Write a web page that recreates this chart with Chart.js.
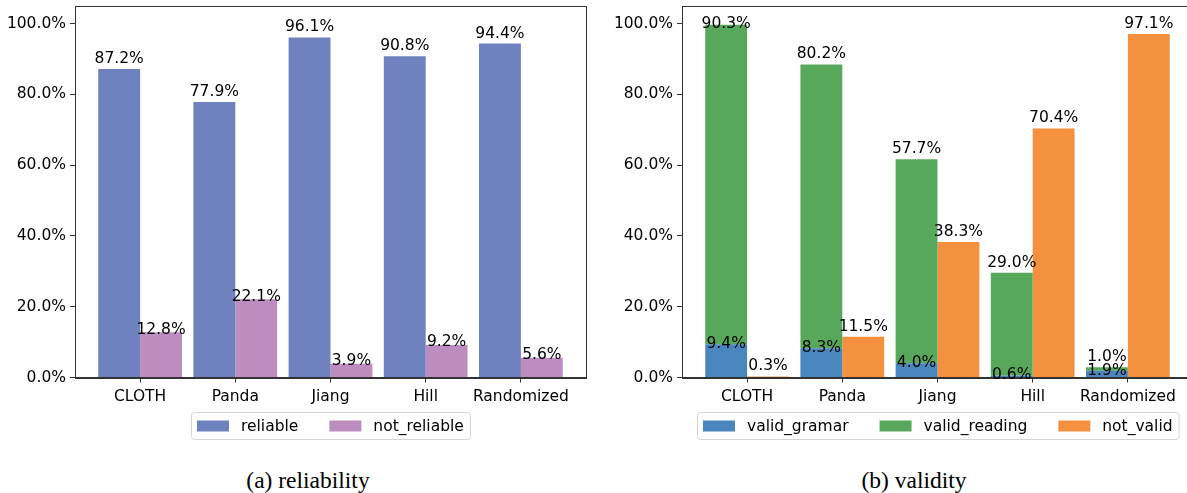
<!DOCTYPE html>
<html>
<head>
<meta charset="utf-8">
<script src="https://cdn.jsdelivr.net/npm/chart.js@4"></script>
<style>
  html, body { margin: 0; padding: 0; background: #fff; overflow: hidden; }
  body { width: 1187px; height: 493px; position: relative; }
  .panel { position: absolute; top: 0; width: 600px; height: 460px; }
  .caption {
    position: absolute; top: 467px; width: 300px; text-align: center;
    font-family: 'Liberation Serif', 'Times New Roman', serif; font-size: 23.5px; color: #000;
  }
</style>
</head>
<body>
<div class="panel" style="left:0"><canvas id="reliability" width="600" height="460"></canvas></div>
<div class="panel" style="left:600px"><canvas id="validity" width="600" height="460"></canvas></div>
<div class="caption" style="left:158px">(a) reliability</div>
<div class="caption" style="left:764px">(b) validity</div>
<script>
const categories = ['CLOTH', 'Panda', 'Jiang', 'Hill', 'Randomized']

// (a) reliability
const reliable = [87.2, 77.9, 96.1, 90.8, 94.4]
const notReliable = [12.8, 22.1, 3.9, 9.2, 5.6]

// (b) validity
const validGramar = [9.4, 8.3, 4.0, 0.6, 1.9]
const validReading = [90.3, 80.2, 57.7, 29.0, 1.0]
const notValid = [0.3, 11.5, 38.3, 70.4, 97.1]

const yTicks = [0, 20, 40, 60, 80, 100]

const FONT = 'DejaVu Sans'
const FS = 15.5
const INK = '#333'

const points = arr => arr.map((v, i) => ({ x: i, y: v }))

// value text over each bar (labelShift: px from bar top to baseline)
const valueLabels = {
  id: 'valueLabels',
  afterDatasetsDraw(chart) {
    const ctx = chart.ctx
    const ceiling = chart.scales.y.getPixelForValue(98.8)
    ctx.save()
    ctx.font = `${FS}px "${FONT}"`
    ctx.fillStyle = '#000'
    ctx.textAlign = 'center'
    ctx.textBaseline = 'alphabetic'
    chart.data.datasets.forEach((ds, di) => {
      const meta = chart.getDatasetMeta(di)
      meta.data.forEach((bar, i) => {
        const top = Math.min(bar.y, bar.base)
        const y = Math.max(top + ds.labelShift, ceiling)
        ctx.fillText(ds.data[i].y.toFixed(1) + '%', bar.x, y)
      })
    })
    ctx.restore()
  }
}

// full box round the plot, drawn over the bars like matplotlib spines
const frame = {
  id: 'frame',
  afterDatasetsDraw(chart) {
    const { ctx, chartArea } = chart
    ctx.save()
    ctx.strokeStyle = INK
    ctx.lineWidth = 1
    ctx.strokeRect(Math.round(chartArea.left) + 0.5, Math.round(chartArea.top) + 0.5,
      Math.round(chartArea.right - chartArea.left), Math.round(chartArea.bottom - chartArea.top))
    ctx.restore()
  }
}

// matplotlib-like boxed legend under the axis, one row
const boxLegend = {
  id: 'boxLegend',
  afterDraw(chart) {
    const { ctx, chartArea } = chart
    ctx.save()
    ctx.font = `${FS}px "${FONT}"`
    const items = chart.data.datasets.map(ds => ({
      text: ds.label, color: ds.backgroundColor, w: ctx.measureText(ds.label).width
    }))
    const pad = 6, handle = 32, textGap = 12, colGap = 31
    const width = pad * 2 + items.reduce((s, it) => s + handle + textGap + it.w, 0) + colGap * (items.length - 1)
    const height = 27
    const cx = (chartArea.left + chartArea.right) / 2
    const x0 = Math.round(cx - width / 2)
    const y0 = Math.round(chartArea.bottom + 34)

    ctx.fillStyle = 'rgba(255,255,255,0.8)'
    ctx.strokeStyle = '#d4d4d4'
    ctx.lineWidth = 1
    ctx.beginPath()
    ctx.roundRect(x0 + 0.5, y0 + 0.5, width, height, 3)
    ctx.fill()
    ctx.stroke()

    let x = x0 + pad
    items.forEach(it => {
      ctx.fillStyle = it.color
      ctx.fillRect(x, y0 + height / 2 - 5, handle, 11)
      ctx.fillStyle = '#000'
      ctx.textBaseline = 'middle'
      ctx.fillText(it.text, x + handle + textGap, y0 + height / 2 + 1)
      x += handle + textGap + it.w + colGap
    })
    ctx.restore()
  }
}

function barChart(canvasId, datasets, yWidth, rightPad, stacked) {
  return new Chart(document.getElementById(canvasId), {
    type: 'bar',
    plugins: [frame, valueLabels, boxLegend],
    data: { datasets },
    options: {
      responsive: false,
      animation: false,
      events: [],
      layout: { padding: { top: 6, right: rightPad, left: 0, bottom: 0 } },
      datasets: { bar: { barPercentage: 1, categoryPercentage: 0.88 } },
      scales: {
        x: {
          type: 'linear',
          min: -0.684,
          max: 4.684,
          offset: false,
          grid: { offset: false, drawOnChartArea: false, drawTicks: true, tickLength: 5, color: INK },
          border: { display: true, color: INK },
          afterBuildTicks(scale) { scale.ticks = categories.map((c, i) => ({ value: i })) },
          afterFit(scale) {
            scale.height = 82.5
            scale.paddingLeft = 0
            scale.paddingRight = 0
          },
          ticks: {
            autoSkip: false, maxRotation: 0, padding: 5, color: '#000',
            font: { family: FONT, size: FS },
            callback: v => categories[v]
          }
        },
        y: {
          min: 0,
          max: 105,
          stacked,
          grid: { drawOnChartArea: false, drawTicks: true, tickLength: 5, color: INK },
          border: { display: true, color: INK },
          afterBuildTicks(scale) { scale.ticks = yTicks.map(v => ({ value: v })) },
          afterFit(scale) {
            scale.width = yWidth
            scale.paddingTop = 0
            scale.paddingBottom = 0
          },
          ticks: {
            padding: 4, color: '#000',
            font: { family: FONT, size: FS },
            callback: v => v.toFixed(1) + '%'
          }
        }
      },
      plugins: { legend: { display: false }, tooltip: { enabled: false } }
    }
  })
}

barChart('reliability', [
  { label: 'reliable', data: points(reliable), backgroundColor: '#6f81be', labelShift: -6 },
  { label: 'not_reliable', data: points(notReliable), backgroundColor: '#bd8dc0', labelShift: 1.5 },
], 75, 14, false)

barChart('validity', [
  { label: 'valid_gramar', data: points(validGramar), backgroundColor: '#4a86be', stack: 'valid', labelShift: 4 },
  { label: 'valid_reading', data: points(validReading), backgroundColor: '#58a85c', stack: 'valid', labelShift: -6 },
  { label: 'not_valid', data: points(notValid), backgroundColor: '#f5913e', stack: 'not', labelShift: -6 },
], 82, 7, true)
</script>
</body>
</html>
